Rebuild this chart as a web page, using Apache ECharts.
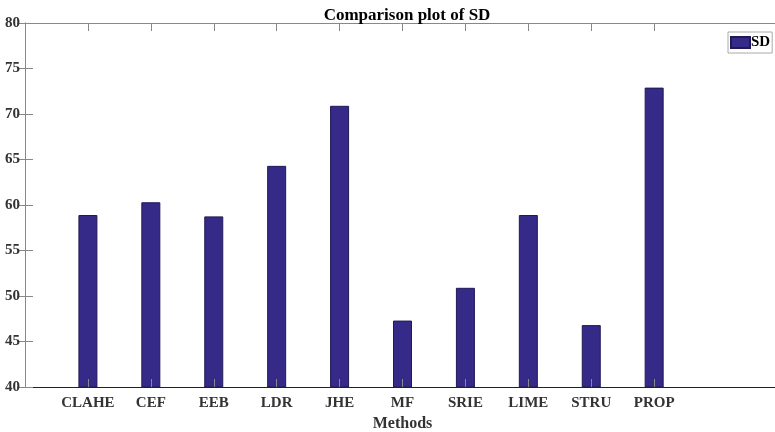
<!DOCTYPE html>
<html>
<head>
<meta charset="utf-8">
<script src="https://cdn.jsdelivr.net/npm/echarts@6/dist/echarts.min.js"></script>
<style>
html,body{margin:0;padding:0;background:#fff;}
#chart{width:775px;height:432px;}
</style>
</head>
<body>
<div id="chart"></div>
<script>
const categories = ['CLAHE','CEF','EEB','LDR','JHE','MF','SRIE','LIME','STRU','PROP'];
const sdValues = [58.9, 60.3, 58.75, 64.3, 70.9, 47.3, 50.9, 58.9, 46.8, 72.9];
const yTicks = [40, 45, 50, 55, 60, 65, 70, 75, 80];
const positions = categories.map((c, i) => i + 1);

const FONT = "'Liberation Serif','Times New Roman',serif";
const chart = echarts.init(document.getElementById('chart'));
chart.setOption({
  animation: false,
  backgroundColor: '#fff',
  title: {
    text: 'Comparison plot of SD',
    left: 402, top: 2, textAlign: 'center',
    textStyle: {fontFamily: FONT, fontWeight: 'bold', fontSize: 17, color: '#000'}
  },
  legend: {
    data: [{name: 'SD', icon: 'rect'}],
    left: 728, top: 32,
    padding: [3, 2, 3, 2],
    itemWidth: 19, itemHeight: 11,
    borderColor: '#aaaaaa', borderWidth: 1,
    textStyle: {fontFamily: FONT, fontWeight: 'bold', fontSize: 15, color: '#000', padding: [0, 0, 0, -4]}
  },
  grid: {left: 25, top: 23, width: 755, height: 364, outerBoundsMode: 'none', containLabel: false},
  xAxis: [{
    type: 'value', min: 0, max: 12, interval: 1, position: 'bottom', z: 5,
    name: 'Methods', nameLocation: 'middle', nameGap: 27,
    nameTextStyle: {fontFamily: FONT, fontWeight: 'bold', fontSize: 16, color: '#333'},
    axisLine: {lineStyle: {color: '#222', width: 1.2}},
    axisTick: {inside: true, length: 8, customValues: positions, lineStyle: {color: '#888'}},
    axisLabel: {
      customValues: positions, margin: 9,
      formatter: v => categories[v - 1] || '',
      fontFamily: FONT, fontWeight: 'bold', fontSize: 15, color: '#333'
    },
    splitLine: {show: false}
  }, {
    type: 'value', min: 0, max: 12, interval: 1, position: 'top', z: 5,
    axisLine: {lineStyle: {color: '#888'}},
    axisTick: {inside: true, length: 8, customValues: positions, lineStyle: {color: '#888'}},
    axisLabel: {show: false},
    splitLine: {show: false}
  }],
  yAxis: [{
    type: 'value', min: 40, max: 80, interval: 5, position: 'left', z: 5,
    axisLine: {show: true, lineStyle: {color: '#888'}},
    axisTick: {show: true, inside: true, length: 8, lineStyle: {color: '#888'}},
    axisLabel: {
      customValues: yTicks, margin: 5,
      fontFamily: FONT, fontWeight: 'bold', fontSize: 15, color: '#333'
    },
    splitLine: {show: false}
  }, {
    type: 'value', min: 40, max: 80, interval: 5, position: 'right', z: 5,
    axisLine: {show: true, lineStyle: {color: '#888'}},
    axisTick: {show: true, inside: true, length: 8, lineStyle: {color: '#888'}},
    axisLabel: {show: false},
    splitLine: {show: false}
  }],
  series: [{
    name: 'SD', type: 'bar', xAxisIndex: 0, yAxisIndex: 0,
    barWidth: 19,
    itemStyle: {color: '#352a87', borderColor: '#1f1a55', borderWidth: 1},
    data: sdValues.map((v, i) => [positions[i], v])
  }]
});
</script>
</body>
</html>
